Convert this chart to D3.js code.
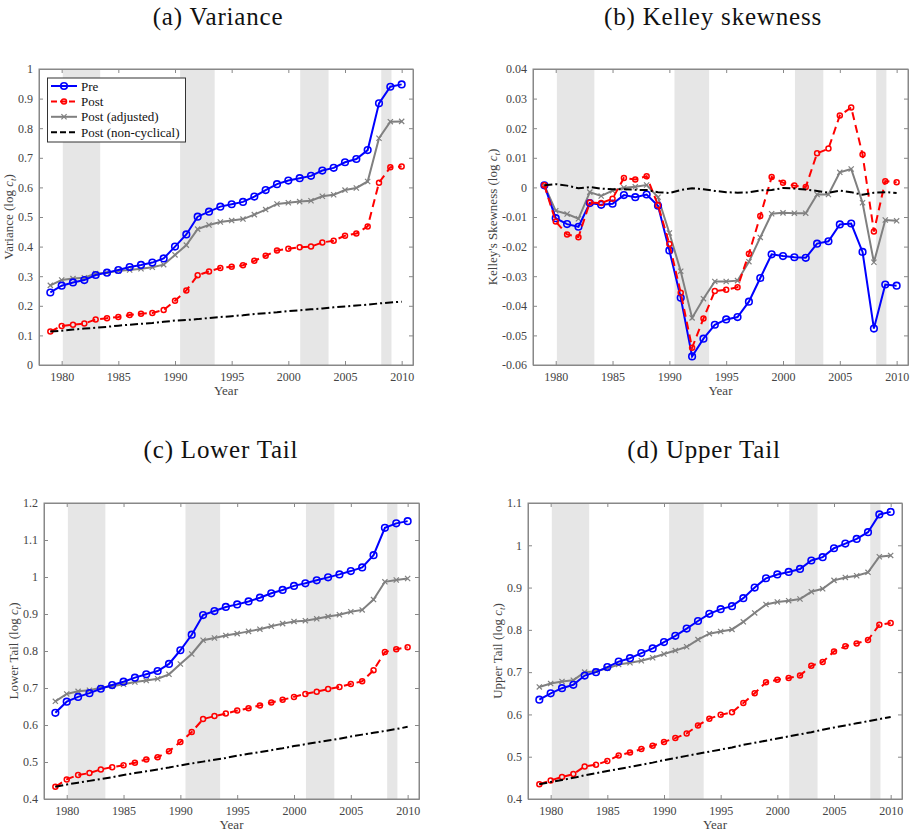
<!DOCTYPE html>
<html>
<head>
<meta charset="utf-8">
<script src="https://cdn.jsdelivr.net/npm/d3@7"></script>
<style>
  body { margin: 0; background: #fff; }
  svg { display: block; }
</style>
</head>
<body>
<svg id="chart" width="911" height="833"></svg>
<script>
// Years shown on every panel
const years = d3.range(1979, 2011);

// Recession bands (start, end)
const recessions = [[1980.1, 1983.4], [1990.45, 1993.5], [2001.05, 2003.55], [2008.2, 2009.1]];

// (a) Variance
const varPre = [0.245, 0.268, 0.279, 0.287, 0.304, 0.312, 0.321, 0.331, 0.338, 0.346, 0.360, 0.400,
    0.441, 0.501, 0.518, 0.535, 0.543, 0.551, 0.569, 0.591, 0.611, 0.623, 0.631, 0.639, 0.657,
    0.666, 0.685, 0.696, 0.726, 0.884, 0.940, 0.948];
const varPost = [0.113, 0.132, 0.136, 0.140, 0.154, 0.158, 0.162, 0.169, 0.173, 0.176, 0.186, 0.217,
    0.252, 0.303, 0.316, 0.328, 0.332, 0.337, 0.352, 0.369, 0.387, 0.393, 0.398, 0.400, 0.414,
    0.420, 0.437, 0.444, 0.468, 0.616, 0.668, 0.671];
const varAdj = [0.269, 0.287, 0.292, 0.295, 0.309, 0.312, 0.318, 0.321, 0.325, 0.330, 0.339, 0.372,
    0.405, 0.459, 0.473, 0.483, 0.488, 0.493, 0.508, 0.525, 0.544, 0.548, 0.552, 0.555, 0.570,
    0.575, 0.591, 0.598, 0.620, 0.766, 0.822, 0.823];
const varNonCyc = [0.113, 0.116, 0.120, 0.123, 0.126, 0.129, 0.133, 0.136, 0.139, 0.142, 0.146, 0.150,
    0.152, 0.155, 0.159, 0.162, 0.165, 0.168, 0.172, 0.175, 0.178, 0.182, 0.185, 0.188, 0.191,
    0.195, 0.198, 0.201, 0.204, 0.208, 0.211, 0.214];

// (b) Kelley skewness
const skewPre = [0.0007, -0.0104, -0.0124, -0.0133, -0.0053, -0.0059, -0.0055, -0.0026, -0.0033,
    -0.0024, -0.0062, -0.0213, -0.0373, -0.0571, -0.0511, -0.0464, -0.0446, -0.0438, -0.0386,
    -0.0306, -0.0226, -0.0232, -0.0236, -0.0238, -0.0190, -0.0182, -0.0125, -0.0122, -0.0218,
    -0.0477, -0.0328, -0.0332];
const skewPost = [0.0007, -0.0115, -0.0159, -0.0168, -0.0051, -0.0053, -0.0038, 0.0032, 0.0027,
    0.0038, -0.0060, -0.0191, -0.0356, -0.0542, -0.0443, -0.0350, -0.0346, -0.0337, -0.0224,
    -0.0097, 0.0035, 0.0016, 0.0006, 0.0001, 0.0115, 0.0131, 0.0243, 0.0270, 0.0111, -0.0149,
    0.0021, 0.0017];
const skewAdj = [0.0007, -0.0079, -0.0090, -0.0106, -0.0016, -0.0029, -0.0011, -0.0001, 0.0002,
    0.0008, -0.0033, -0.0154, -0.0283, -0.0441, -0.0376, -0.0318, -0.0318, -0.0315, -0.0251,
    -0.0169, -0.0089, -0.0086, -0.0087, -0.0087, -0.0024, -0.0024, 0.0051, 0.0062, -0.0052,
    -0.0253, -0.0110, -0.0113];
const skewNonCyc = [0.0007, 0.0011, 0.0006, -0.0003, 0.0001, -0.0004, -0.0006, -0.0006, -0.0008,
    -0.0009, -0.0016, -0.0019, -0.0009, -0.0003, -0.0006, -0.0012, -0.0016, -0.0018, -0.0017,
    -0.0010, -0.0009, -0.0002, -0.0004, -0.0007, -0.0012, -0.0018, -0.0011, -0.0016, -0.0025,
    -0.0018, -0.0016, -0.0019];

// (c) Lower tail
const lowPre = [0.633, 0.663, 0.676, 0.686, 0.698, 0.708, 0.717, 0.728, 0.737, 0.746, 0.765, 0.802,
    0.844, 0.897, 0.908, 0.919, 0.926, 0.934, 0.944, 0.956, 0.965, 0.976, 0.983, 0.991, 0.999,
    1.007, 1.016, 1.026, 1.059, 1.133, 1.145, 1.151];
const lowPost = [0.433, 0.453, 0.465, 0.470, 0.480, 0.486, 0.491, 0.498, 0.507, 0.513, 0.529, 0.554,
    0.581, 0.616, 0.624, 0.631, 0.639, 0.645, 0.653, 0.661, 0.668, 0.676, 0.684, 0.690, 0.697,
    0.703, 0.711, 0.718, 0.748, 0.797, 0.805, 0.810];
const lowAdj = [0.664, 0.684, 0.691, 0.694, 0.701, 0.705, 0.710, 0.716, 0.720, 0.725, 0.737, 0.765,
    0.792, 0.829, 0.835, 0.842, 0.847, 0.853, 0.859, 0.867, 0.874, 0.880, 0.882, 0.887, 0.893,
    0.898, 0.906, 0.911, 0.939, 0.987, 0.992, 0.996];
const lowNonCyc = [0.433, 0.439, 0.444, 0.449, 0.454, 0.459, 0.465, 0.470, 0.475, 0.480, 0.485, 0.491,
    0.496, 0.501, 0.506, 0.511, 0.517, 0.522, 0.527, 0.532, 0.537, 0.543, 0.548, 0.553, 0.558,
    0.563, 0.569, 0.574, 0.579, 0.584, 0.589, 0.595];

// (d) Upper tail
const upPre = [0.635, 0.650, 0.662, 0.670, 0.692, 0.700, 0.712, 0.725, 0.733, 0.745, 0.756, 0.771,
    0.786, 0.803, 0.821, 0.838, 0.849, 0.856, 0.875, 0.900, 0.922, 0.931, 0.937, 0.944, 0.964,
    0.972, 0.993, 1.004, 1.015, 1.031, 1.073, 1.079];
const upPost = [0.435, 0.444, 0.452, 0.459, 0.477, 0.481, 0.490, 0.503, 0.510, 0.518, 0.526, 0.535,
    0.544, 0.555, 0.574, 0.590, 0.599, 0.605, 0.627, 0.650, 0.676, 0.682, 0.686, 0.692, 0.715,
    0.724, 0.749, 0.761, 0.768, 0.776, 0.812, 0.816];
const upAdj = [0.665, 0.673, 0.678, 0.681, 0.700, 0.702, 0.709, 0.718, 0.722, 0.727, 0.734, 0.743,
    0.751, 0.760, 0.777, 0.791, 0.796, 0.801, 0.819, 0.840, 0.860, 0.866, 0.869, 0.873, 0.890,
    0.897, 0.917, 0.924, 0.928, 0.936, 0.973, 0.976];
const upNonCyc = [0.435, 0.440, 0.445, 0.450, 0.456, 0.461, 0.466, 0.471, 0.476, 0.481, 0.486, 0.492,
    0.497, 0.502, 0.507, 0.512, 0.517, 0.522, 0.528, 0.533, 0.538, 0.543, 0.548, 0.553, 0.558,
    0.564, 0.569, 0.574, 0.579, 0.584, 0.589, 0.594];

// Tick labels
const xTicks = [1980, 1985, 1990, 1995, 2000, 2005, 2010];
const varTicks = [0, 0.1, 0.2, 0.3, 0.4, 0.5, 0.6, 0.7, 0.8, 0.9, 1];
const skewTicks = [-0.06, -0.05, -0.04, -0.03, -0.02, -0.01, 0, 0.01, 0.02, 0.03, 0.04];
const lowTicks = [0.4, 0.5, 0.6, 0.7, 0.8, 0.9, 1, 1.1, 1.2];
const upTicks = [0.4, 0.5, 0.6, 0.7, 0.8, 0.9, 1, 1.1];

const legendLabels = ["Pre", "Post", "Post (adjusted)", "Post (non-cyclical)"];

// Line styles for the four series
const styles = [
    { color: "#0000ff", dash: null, marker: "circle" },
    { color: "#ff0000", dash: "8,5", marker: "open" },
    { color: "#808080", dash: null, marker: "cross" },
    { color: "#000000", dash: "8,3,2,3", marker: null }
];

const serif = "'Liberation Serif', 'DejaVu Serif', 'Times New Roman', serif";
const svg = d3.select("#chart").style("font-family", serif);

const panels = [
    { title: "(a) Variance", titleX: 218, titleY: 25, label: "Variance", box: [39, 413, 69, 365],
        yDomain: [0, 1], yTicks: varTicks, labelX: 13,
        series: [varPre, varPost, varAdj, varNonCyc], legend: true },
    { title: "(b) Kelley skewness", titleX: 713, titleY: 25, label: "Kelley's Skewness", box: [533, 908, 69, 365],
        yDomain: [-0.06, 0.04], yTicks: skewTicks, labelX: 497,
        series: [skewPre, skewPost, skewAdj, skewNonCyc] },
    { title: "(c) Lower Tail", titleX: 221, titleY: 458, label: "Lower Tail", box: [44, 419, 503, 799],
        yDomain: [0.4, 1.2], yTicks: lowTicks, labelX: 18,
        series: [lowPre, lowPost, lowAdj, lowNonCyc] },
    { title: "(d) Upper Tail", titleX: 704, titleY: 458, label: "Upper Tail", box: [528, 902, 503, 799],
        yDomain: [0.4, 1.1], yTicks: upTicks, labelX: 502,
        series: [upPre, upPost, upAdj, upNonCyc] }
];

const axisColor = "#888";
const textColor = "#444";

function drawMarker(g, kind, color, cx, cy) {
    if (kind === "circle") {
        g.append("circle").attr("cx", cx).attr("cy", cy).attr("r", 3.3)
            .attr("fill", "none").attr("stroke", color).attr("stroke-width", 1.6);
    } else if (kind === "open") {
        g.append("circle").attr("cx", cx).attr("cy", cy).attr("r", 2.5)
            .attr("fill", "none").attr("stroke", color).attr("stroke-width", 1.5);
    } else if (kind === "cross") {
        const s = 2.6;
        g.append("path")
            .attr("d", `M${cx - s},${cy - s}L${cx + s},${cy + s}M${cx - s},${cy + s}L${cx + s},${cy - s}`)
            .attr("stroke", color).attr("stroke-width", 1.2);
    }
}

panels.forEach((p) => {
    const [x0, x1, y0, y1] = p.box;
    const x = d3.scaleLinear().domain([1978, 2011]).range([x0, x1]);
    const y = d3.scaleLinear().domain(p.yDomain).range([y1, y0]);
    const g = svg.append("g");

    // Recession shading
    g.selectAll("rect.rec")
        .data(recessions)
        .enter()
        .append("rect")
        .attr("x", (d) => x(d[0]))
        .attr("width", (d) => x(d[1]) - x(d[0]))
        .attr("y", y0)
        .attr("height", y1 - y0)
        .attr("fill", "#e6e6e6");

    // Axes: ticks inside, mirrored on top and right
    const bottom = g.append("g").attr("transform", `translate(0,${y1})`)
        .call(d3.axisBottom(x).tickValues(xTicks).tickFormat(d3.format("d"))
            .tickSizeInner(-4).tickSizeOuter(0).tickPadding(7));
    const top = g.append("g").attr("transform", `translate(0,${y0})`)
        .call(d3.axisTop(x).tickValues(xTicks).tickSizeInner(-4).tickSizeOuter(0).tickFormat(""));
    const left = g.append("g").attr("transform", `translate(${x0},0)`)
        .call(d3.axisLeft(y).tickValues(p.yTicks).tickFormat((d) => String(d))
            .tickSizeInner(-4).tickSizeOuter(0).tickPadding(6));
    const right = g.append("g").attr("transform", `translate(${x1},0)`)
        .call(d3.axisRight(y).tickValues(p.yTicks).tickSizeInner(-4).tickSizeOuter(0).tickFormat(""));
    [bottom, top, left, right].forEach((a) => {
        a.attr("font-family", null);
        a.select(".domain").attr("stroke", axisColor);
        a.selectAll(".tick line").attr("stroke", axisColor);
        a.selectAll("text").attr("fill", textColor).attr("font-size", 12).style("font-family", serif);
    });
    g.append("rect").attr("x", x0).attr("y", y0).attr("width", x1 - x0).attr("height", y1 - y0)
        .attr("fill", "none").attr("stroke", axisColor).attr("stroke-width", 1);

    // Series lines and markers
    const line = d3.line().x((d) => x(d[0])).y((d) => y(d[1]));
    [2, 0, 1, 3].forEach((si) => {
        const st = styles[si];
        const pts = years.map((yr, i) => [yr, p.series[si][i]]);
        g.append("path")
            .datum(pts)
            .attr("d", line)
            .attr("fill", "none")
            .attr("stroke", st.color)
            .attr("stroke-width", 2)
            .attr("stroke-dasharray", st.dash);
        if (st.marker) {
            const mg = g.append("g");
            pts.forEach((d) => drawMarker(mg, st.marker, st.color, x(d[0]), y(d[1])));
        }
    });

    // Title
    svg.append("text").attr("x", p.titleX).attr("y", p.titleY)
        .attr("text-anchor", "middle").attr("font-size", 25).attr("fill", "#111")
        .attr("letter-spacing", 0.8)
        .style("font-family", serif)
        .text(p.title);

    // X label
    svg.append("text").attr("x", (x0 + x1) / 2).attr("y", y1 + 30)
        .attr("text-anchor", "middle").attr("font-size", 13).attr("fill", textColor)
        .style("font-family", serif)
        .text("Year");

    // Y label with italic c and subscript t
    const yl = svg.append("text")
        .attr("transform", `translate(${p.labelX},${(y0 + y1) / 2}) rotate(-90)`)
        .attr("text-anchor", "middle").attr("font-size", 13).attr("fill", textColor)
        .style("font-family", serif);
    yl.append("tspan").text(`${p.label} (log `);
    yl.append("tspan").attr("font-style", "italic").text("c");
    yl.append("tspan").attr("font-style", "italic").attr("font-size", 9).attr("dy", 3).text("t");
    yl.append("tspan").attr("dy", -3).text(")");

    // Legend
    if (p.legend) {
        const lg = svg.append("g");
        lg.append("rect").attr("x", 47.5).attr("y", 78).attr("width", 138).attr("height", 64)
            .attr("fill", "#fff").attr("stroke", "#333").attr("stroke-width", 1);
        legendLabels.forEach((lab, i) => {
            const ly = 86 + i * 15.4;
            const st = styles[i];
            lg.append("line").attr("x1", 51).attr("x2", 77).attr("y1", ly).attr("y2", ly)
                .attr("stroke", st.color).attr("stroke-width", 2)
                .attr("stroke-dasharray", st.dash === null ? null : "6,3");
            if (st.marker) drawMarker(lg, st.marker, st.color, 64, ly);
            lg.append("text").attr("x", 81).attr("y", ly + 4.5).attr("font-size", 13)
                .attr("fill", "#111").style("font-family", serif).text(lab);
        });
    }
});
</script>
</body>
</html>
